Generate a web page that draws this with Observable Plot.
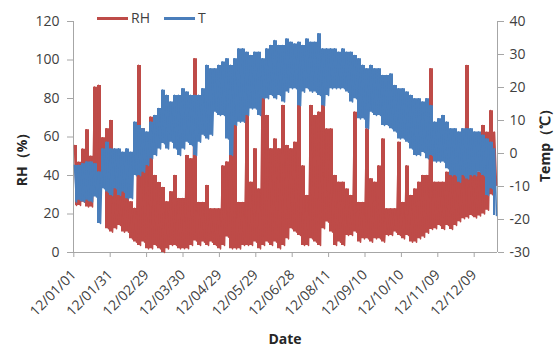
<!DOCTYPE html>
<html>
<head>
<meta charset="utf-8">
<script src="https://cdn.jsdelivr.net/npm/d3@7"></script>
<script src="https://cdn.jsdelivr.net/npm/@observablehq/plot@0.6"></script>
<style>
  html, body { margin: 0; padding: 0; background: #fff; }
  #wrap { position: relative; width: 556px; height: 347px; font-family: "Open Sans", sans-serif; }
  .lbl { position: absolute; font-weight: bold; font-size: 14px; color: #262626; white-space: nowrap; }
  .leg { position: absolute; font-size: 14px; color: #404040; }
  .legline { position: absolute; height: 3px; }
</style>
</head>
<body>
<div id="wrap"></div>
<script>
// Tick labels of the category (date) axis
const dateLabels = ["12/01/01","12/01/31","12/02/29","12/03/30","12/04/29","12/05/29","12/06/28","12/08/11","12/09/10","12/10/10","12/11/09","12/12/09"];
const rhTicks = [0, 20, 40, 60, 80, 100, 120];
const tempTicks = [-30, -20, -10, 0, 10, 20, 30, 40];

// RH (%) upper / lower swing per column
const rhHigh = [55.6,46.9,53.7,63.8,50,85.9,86.8,59.6,64.3,68.6,36.4,33.8,31.9,29.9,26.3,22.9,97.2,64.3,50.4,70.3,40,36.4,33.8,26.3,31.5,40,28,
  28,50.4,48.7,100.6,26,26,34.8,22.7,22.7,22.7,45,47,55.6,98.9,26,26,71.2,36.5,53.9,33,99.7,71.2,53.9,59,53.9,76.4,
  55.6,53.9,57.3,76.4,45,29.6,76.4,71.2,72.9,100.6,64.2,64.2,40,36.5,36.5,33,29.6,72.9,26,26,64.2,38.3,36.5,45,59,
  22.7,22.7,22.7,57.3,26,45,29.6,33,36.5,40,40,95.4,36.5,36.5,36.5,41.7,40,40,41.7,41.7,97.1,41.7,43.5,41.7,66,62.5,73.7,62.5];
const rhLow = [24.4,24.4,26.1,23.6,23.6,33.6,38.6,36.4,12.3,10.6,12.3,14,10.6,10.6,7.1,5.4,3.6,5.4,1.9,1.9,3.6,1.9,0,1.9,3.6,3.6,1.9,
  2,2,3.6,6,3.6,5.4,3.6,5.4,3.6,1.9,3.6,8,1.9,1.9,1.9,3.6,3.6,3.6,5.4,1.9,3.6,5.4,3.6,5.4,1.9,3.6,
  7.1,12.3,10.6,8.8,3.6,3.6,7.1,5.4,3.6,12.3,15.8,10.6,3.6,5.4,3.6,8.8,8.8,10.6,5.4,7.1,7.1,5.4,7.1,7.1,5.4,
  8.8,8.8,10.6,8.8,7.1,8.8,5.4,5.4,7.1,8,10,12,12.3,14,12,14,12,14,16,17.5,18,19.2,18,19,20,22,30,35];

// Temperature (°C) upper / lower swing per column
const tHigh = [-3.6,-3.6,-3.1,-2.6,-2.6,-3.1,-5.6,1.4,3.4,1.4,1.4,1.4,0.4,1.4,0.4,9.5,8.5,7.5,6.5,9.5,11.5,13.6,19.2,17.6,15.6,17.6,17.6,
  19.6,18.6,17.6,17.6,17.6,19.6,26.7,25.7,25.7,26.7,27.7,28.7,26.7,28.7,31.7,31.7,30.7,29.7,30.7,30.7,28.7,31.7,32.7,34.2,32.7,32.7,
  34.7,33.7,33.2,33.7,32.7,34.7,33.7,33.7,36.3,31.7,31.7,31.7,31.7,30.7,31.7,30.7,30.7,29.7,28.7,26.7,25.7,26.7,25.7,25.7,23.6,
  23.6,24.1,20.6,19.6,19.6,18.6,17.6,16.6,16.6,15.6,16.6,14.5,9.5,10.5,11.5,9.5,7.5,7.5,6.5,7.5,7.5,7.5,6.5,6.5,5.5,4.4,3.4,1.4];
const tLow = [-14.7,-14.2,-14.7,-14.2,-14.7,-13.2,-21.2,-10.7,-11.7,-12.7,-10.7,-12.7,-11.7,-13.7,-13.7,-6.7,-6.7,-5.7,-3.6,-1.6,-0.6,1.4,3.0,1.4,3.4,1.4,-0.6,
  1.4,3.4,2.4,-0.6,3.4,5.5,4.4,5.5,12.5,11.5,11.5,4.4,-0.6,8.5,9.5,9.5,11.5,13.5,13.5,11.5,16.6,16.6,17.6,16.6,17.6,15.6,
  18.6,19.6,19.6,14.5,18.6,19.6,18.6,18.6,17.6,14.5,17.6,19.6,19.6,19.6,19.6,18.6,15.6,16.6,10.5,10.5,7.5,12.5,11.5,11.5,8.5,
  8.5,7.5,6.5,4.4,4.4,3.4,1.4,-0.6,-0.6,0.3,-1.6,-0.6,-2.6,-2.6,-2.6,-4.6,-6.7,-6.7,-8.7,-6.7,-7.7,-6.7,-6.7,-5.7,-6.7,-12.7,-10.7,-18.8];

const RED = "#BE4B48", BLUE = "#4A7EBB", AX = "#a6a6a6", TXT = "#404040";

// temperature -> left (RH) scale units: -30..40 maps onto 0..120
const t2y = t => (t + 30) * 120 / 70;

function zig(hi, lo, f) {
  const out = [];
  hi.forEach((h, i) => {
    out.push({x: i, y: f(h)});
    out.push({x: i + 0.5, y: f(lo[i])});
  });
  return out;
}
function cols(hi, lo, f) {
  return hi.map((h, i) => ({x: i + 0.25, hi: f(h), lo: f(lo[i])}));
}
const rhData = zig(rhHigh, rhLow, v => v);
const tData = zig(tHigh, tLow, t2y);
const rhCols = cols(rhHigh, rhLow, v => v);
const tCols = cols(tHigh, tLow, t2y);

const xDomain = [-0.25, rhHigh.length - 0.25];
const xTickPos = dateLabels.map((_, k) => -0.175 + 9.1 * k);
const xLabelMap = new Map(xTickPos.map((p, k) => [p, dateLabels[k]]));
const tTickPos = tempTicks.map(t2y);
const tLabelMap = new Map(tTickPos.map((p, k) => [p, String(tempTicks[k])]));

const chart = Plot.plot({
  width: 556, height: 347,
  marginLeft: 73, marginRight: 59, marginTop: 21, marginBottom: 95,
  style: {fontFamily: "Open Sans, sans-serif", fontSize: "14px", color: TXT, background: "white", overflow: "visible"},
  x: {domain: xDomain, axis: null},
  y: {domain: [0, 120], axis: null},
  marks: [
    Plot.ruleX([xDomain[0]], {stroke: AX}),
    Plot.ruleX([xDomain[1]], {stroke: AX}),
    Plot.ruleY([0], {stroke: AX}),
    Plot.axisY({ticks: rhTicks, tickSize: 6, tickPadding: 8, label: null, stroke: AX, fill: TXT}),
    Plot.axisY({anchor: "right", ticks: tTickPos, tickFormat: d => tLabelMap.get(d), tickSize: 6, tickPadding: 6, label: null, stroke: AX, fill: TXT}),
    Plot.axisX({ticks: xTickPos, tickFormat: d => xLabelMap.get(d), tickRotate: -45, tickSize: 5, tickPadding: 15, label: null, stroke: AX, fill: TXT}),
    Plot.areaY(rhCols, {x: "x", y1: "lo", y2: "hi", fill: RED, curve: "step"}),
    Plot.line(rhData, {x: "x", y: "y", stroke: RED, strokeWidth: 1.6}),
    Plot.areaY(tCols, {x: "x", y1: "lo", y2: "hi", fill: BLUE, curve: "step"}),
    Plot.line(tData, {x: "x", y: "y", stroke: BLUE, strokeWidth: 1.6})
  ]
});

const wrap = document.getElementById("wrap");
wrap.appendChild(chart);

function addDiv(cls, text, css) {
  const d = document.createElement("div");
  d.className = cls;
  if (text) d.textContent = text;
  Object.assign(d.style, css);
  wrap.appendChild(d);
  return d;
}
// Legend
addDiv("legline", "", {left: "97px", top: "17px", width: "31px", background: RED});
addDiv("leg", "RH", {left: "131px", top: "8px"});
addDiv("legline", "", {left: "164px", top: "17px", width: "31px", background: BLUE});
addDiv("leg", "T", {left: "198px", top: "8px"});
// Axis titles
addDiv("lbl", "RH（%）", {left: "22px", top: "156px", transform: "translate(-50%,-50%) rotate(-90deg)"});
addDiv("lbl", "Temp（℃）", {left: "545px", top: "142px", transform: "translate(-50%,-50%) rotate(-90deg)"});
addDiv("lbl", "Date", {left: "285px", top: "338px", transform: "translate(-50%,-50%)"});
</script>
</body>
</html>
